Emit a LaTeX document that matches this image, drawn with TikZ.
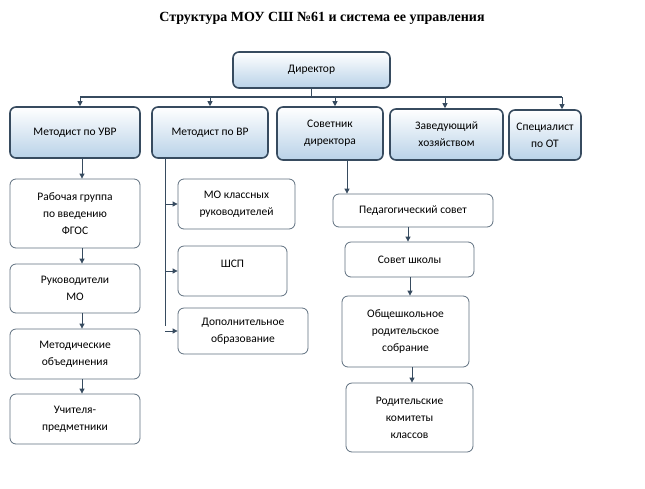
\documentclass[tikz,border=0pt]{standalone}
\usepackage{fontspec}
\setmainfont{Liberation Serif}
\newfontfamily\boxfont{Carlito}
\usetikzlibrary{arrows.meta}
\definecolor{edge}{RGB}{55,75,95}
\definecolor{lb}{RGB}{185,210,232}
\begin{document}
\begin{tikzpicture}[x=1pt,y=-1pt,
  topbox/.style={draw=edge,line width=1.6pt,rounded corners=6pt,top color=white,bottom color=lb,align=center,font=\boxfont\fontsize{11.5}{17}\selectfont,inner sep=0pt},
  subbox/.style={draw=edge!80,line width=0.8pt,rounded corners=6pt,fill=white,align=center,font=\boxfont\fontsize{11.5}{17}\selectfont,inner sep=0pt},
  arr/.style={draw=edge,line width=0.8pt,-{Triangle[length=5pt,width=5pt]}},
  ln/.style={draw=edge,line width=0.8pt}]
\useasboundingbox (0,0) rectangle (645,488);
\node[font=\bfseries\fontsize{14}{16}\selectfont] (title) at (322,18) {Структура МОУ СШ №61 и система ее управления};
% top
\node[topbox,minimum width=157pt,minimum height=36pt] (dir) at (311.5,70) {Директор};
\node[topbox,minimum width=130pt,minimum height=51pt] (uvr) at (75,132.5) {Методист по УВР};
\node[topbox,minimum width=116pt,minimum height=51pt] (vr) at (210,132.5) {Методист по ВР};
\node[topbox,minimum width=106pt,minimum height=53pt] (sov) at (330,133.5) {Советник\\директора};
\node[topbox,minimum width=113pt,minimum height=51pt] (zav) at (446.5,134.5) {Заведующий\\хозяйством};
\node[topbox,minimum width=72pt,minimum height=50pt] (spec) at (545,135) {Специалист\\по ОТ};
% left column
\node[subbox,minimum width=130pt,minimum height=69pt] (l1) at (75,213.5) {Рабочая группа\\по введению\\ФГОС};
\node[subbox,minimum width=130pt,minimum height=49pt] (l2) at (75,288.5) {Руководители\\МО};
\node[subbox,minimum width=130pt,minimum height=50pt] (l3) at (75,354) {Методические\\объединения};
\node[subbox,minimum width=130pt,minimum height=50pt] (l4) at (75,419) {Учителя-\\предметники};
% middle column
\node[subbox,minimum width=117pt,minimum height=50pt] (m1) at (236.5,204) {МО классных\\руководителей};
\node[subbox,minimum width=109pt,minimum height=50pt,text depth=14pt] (m2) at (232.5,271) {ШСП};
\node[subbox,minimum width=130pt,minimum height=46pt] (m3) at (243,331) {Дополнительное\\образование};
% right column
\node[subbox,minimum width=160pt,minimum height=33pt] (r1) at (413,210.5) {Педагогический совет};
\node[subbox,minimum width=129pt,minimum height=35pt] (r2) at (409.5,259.5) {Совет школы};
\node[subbox,minimum width=127pt,minimum height=71pt] (r3) at (405.5,331.5) {Общешкольное\\родительское\\собрание};
\node[subbox,minimum width=127pt,minimum height=69pt] (r4) at (409.5,417.5) {Родительские\\комитеты\\классов};
% bus
\coordinate (busL) at (80,97);
\coordinate (busR) at (562,97);
\draw[draw=edge,line width=1.6pt] (busL) -- (busR);
\draw[draw=edge,line width=1.6pt] (dir.south) -- (dir.south |- busL);
\foreach \n/\xx in {uvr/80,vr/210,sov/335,zav/445,spec/562}
  \draw[arr] (\xx,97) -- (\xx,0 |- \n.north);
% left chain
\draw[arr] (uvr.south -| 82,0) -- (l1.north -| 82,0);
\draw[arr] (l1.south -| 82,0) -- (l2.north -| 82,0);
\draw[arr] (l2.south -| 82,0) -- (l3.north -| 82,0);
\draw[arr] (l3.south -| 82,0) -- (l4.north -| 82,0);
% middle
\coordinate (vb) at (165,326);
\draw[ln] (vr.south -| vb) -- (vb);
\draw[arr] (165,0 |- m1) -- (m1.west);
\draw[arr] (165,0 |- m2) -- (m2.west);
\draw[arr] (165,0 |- m3) -- (m3.west);
% right
\draw[arr] (sov.south -| 347,0) -- (r1.north -| 347,0);
\draw[arr] (r1.south -| 408,0) -- (r2.north -| 408,0);
\draw[arr] (r2.south -| 410,0) -- (r3.north -| 410,0);
\draw[arr] (r3.south -| 412,0) -- (r4.north -| 412,0);
\end{tikzpicture}
\end{document}
